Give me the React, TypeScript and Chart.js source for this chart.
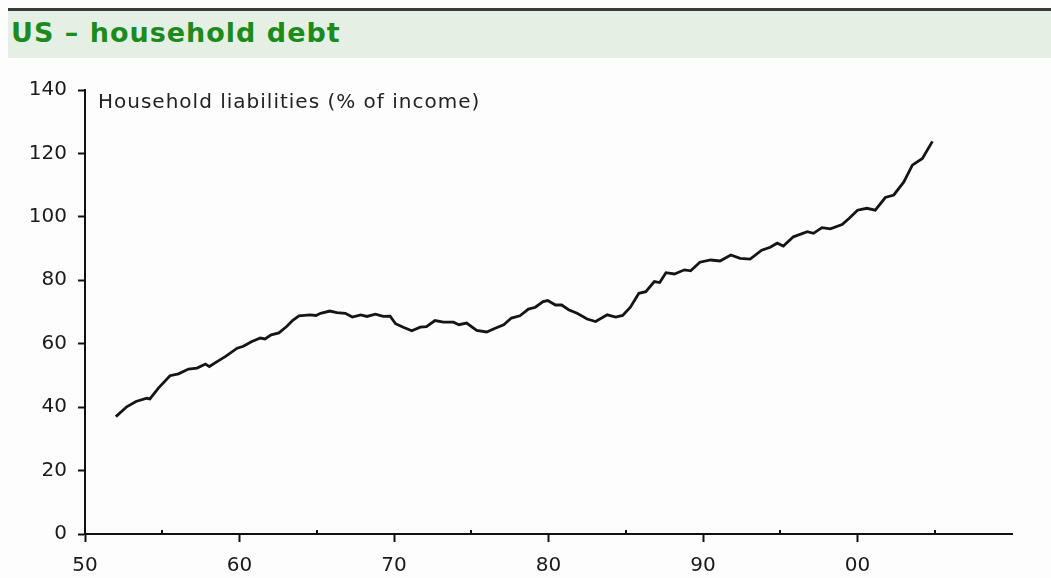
import React, { useEffect, useRef } from "react";
import { Chart, registerables } from "chart.js";

Chart.register(...registerables);

const TITLE = "US – household debt";
const SERIES_LABEL = "Household liabilities (% of income)";

const years = [
  1952.0, 1952.7, 1953.3, 1954.0, 1954.2, 1954.75, 1955.5, 1956.05, 1956.7, 1957.25,
  1957.8, 1958.05, 1958.6, 1959.1, 1959.85, 1960.25, 1960.8, 1961.35, 1961.65, 1962.05,
  1962.55, 1963.05, 1963.45, 1963.85, 1964.55, 1964.95, 1965.25, 1965.85, 1966.3, 1966.85,
  1967.3, 1967.85, 1968.25, 1968.8, 1969.3, 1969.75, 1970.1, 1970.6, 1971.15, 1971.7,
  1972.1, 1972.65, 1973.2, 1973.85, 1974.2, 1974.7, 1975.35, 1976.0, 1976.55, 1977.1,
  1977.6, 1978.15, 1978.7, 1979.15, 1979.65, 1979.95, 1980.45, 1980.85, 1981.3, 1981.85,
  1982.5, 1983.05, 1983.8, 1984.35, 1984.8, 1985.3, 1985.85, 1986.3, 1986.85, 1987.2,
  1987.6, 1988.15, 1988.8, 1989.2, 1989.8, 1990.5, 1991.1, 1991.8, 1992.4, 1993.05,
  1993.8, 1994.35, 1994.8, 1995.2, 1995.85, 1996.75, 1997.15, 1997.7, 1998.25, 1999.0,
  1999.45, 2000.0, 2000.6, 2001.15, 2001.8, 2002.35, 2003.0, 2003.55, 2004.2, 2004.85,
];

const liabilities = [
  37.0, 40.1, 41.8, 42.8, 42.6, 46.0, 49.9, 50.5, 52.0, 52.3,
  53.6, 52.8, 54.5, 56.0, 58.6, 59.2, 60.7, 61.8, 61.5, 62.8,
  63.4, 65.4, 67.4, 68.8, 69.1, 68.9, 69.6, 70.3, 69.8, 69.6,
  68.4, 69.1, 68.6, 69.3, 68.6, 68.7, 66.3, 65.2, 64.1, 65.2,
  65.4, 67.3, 66.8, 66.8, 66.0, 66.5, 64.2, 63.7, 64.9, 66.0,
  68.1, 68.8, 70.9, 71.5, 73.3, 73.6, 72.2, 72.2, 70.7, 69.6,
  67.8, 67.0, 69.1, 68.4, 68.9, 71.5, 75.9, 76.4, 79.6, 79.3,
  82.4, 82.0, 83.3, 83.0, 85.7, 86.4, 86.1, 88.0, 86.9, 86.7,
  89.5, 90.4, 91.7, 90.8, 93.7, 95.3, 94.8, 96.6, 96.2, 97.6,
  99.5, 102.1, 102.7, 102.1, 106.1, 106.9, 111.0, 116.3, 118.4, 123.8,
];

const xMajorTicks = [1950, 1960, 1970, 1980, 1990, 2000];
const xMinorTicks = [1955, 1965, 1975, 1985, 1995, 2005];
const X_MIN = 1950;
const X_MAX = 2010;
const Y_MIN = 0;
const Y_MAX = 140;
const Y_STEP = 20;

const FONT = "'DejaVu Sans', Verdana, sans-serif";

const minorTickPlugin = {
  id: "minorTicks",
  afterDraw(chart: any) {
    const { ctx, chartArea } = chart;
    const xs = chart.scales.x;
    ctx.save();
    ctx.strokeStyle = "#111";
    ctx.lineWidth = 2;
    for (const v of xMinorTicks) {
      const px = Math.round(xs.getPixelForValue(v));
      ctx.beginPath();
      ctx.moveTo(px, chartArea.bottom);
      ctx.lineTo(px, chartArea.bottom - 4);
      ctx.stroke();
    }
    // series label inside chart
    ctx.fillStyle = "#222";
    ctx.font = `20px ${FONT}`;
    try {
      (ctx as any).letterSpacing = "1px";
    } catch (e) {}
    ctx.textBaseline = "middle";
    ctx.textAlign = "left";
    ctx.fillText(SERIES_LABEL, chartArea.left + 13, chartArea.top + 13);
    ctx.restore();
  },
};

export default function App() {
  const canvasRef = useRef<HTMLCanvasElement | null>(null);

  useEffect(() => {
    document.body.style.margin = "0";
    document.body.style.background = "#fdfdfd";
    const canvas = canvasRef.current;
    if (!canvas) return;
    const chart = new Chart(canvas, {
      type: "line",
      data: {
        datasets: [
          {
            label: SERIES_LABEL,
            data: years.map((x, i) => ({ x, y: liabilities[i] })),
            borderColor: "#151515",
            borderWidth: 2.8,
            pointRadius: 0,
            tension: 0,
            fill: false,
          },
        ],
      },
      options: {
        responsive: false,
        animation: false,
        devicePixelRatio: 1,
        layout: { padding: { left: 0, right: 39, top: 90, bottom: 0 } },
        plugins: {
          legend: { display: false },
          title: { display: false },
          tooltip: { enabled: false },
        },
        scales: {
          x: {
            type: "linear",
            min: X_MIN,
            max: X_MAX,
            afterBuildTicks: (scale: any) => {
              scale.ticks = xMajorTicks.map((v) => ({ value: v }));
            },
            afterFit: (scale: any) => {
              scale.height = 44;
            },
            ticks: {
              autoSkip: false,
              maxRotation: 0,
              padding: 12,
              color: "#1a1a1a",
              font: { family: FONT, size: 20 },
              callback: (v: any) => String(Number(v) % 100).padStart(2, "0"),
            },
            grid: {
              display: true,
              drawOnChartArea: false,
              drawTicks: true,
              tickLength: 8,
              tickWidth: 2,
              tickColor: "#111",
            },
            border: { display: true, color: "#111", width: 2 },
          },
          y: {
            type: "linear",
            min: Y_MIN,
            max: Y_MAX,
            afterFit: (scale: any) => {
              scale.width = 85;
            },
            ticks: {
              stepSize: Y_STEP,
              padding: 11,
              color: "#1a1a1a",
              font: { family: FONT, size: 20 },
            },
            grid: {
              display: true,
              drawOnChartArea: false,
              drawTicks: true,
              tickLength: 7,
              tickWidth: 2,
              tickColor: "#111",
            },
            border: { display: true, color: "#111", width: 2 },
          },
        },
      },
      plugins: [minorTickPlugin],
    });
    return () => chart.destroy();
  }, []);

  return (
    <div style={{ position: "fixed", left: 0, top: 0, width: 1051, height: 578, background: "#fdfdfd" }}>
      <div
        style={{
          position: "absolute",
          left: 8,
          right: 0,
          top: 8,
          height: 47,
          borderTop: "3px solid #3a3a3a",
          background: "#e4f0e3",
        }}
      >
        <div
          style={{
            position: "absolute",
            left: 3,
            top: 6,
            fontFamily: FONT,
            fontWeight: "bold",
            fontSize: 27,
            letterSpacing: "1px",
            color: "#1d8a1d",
            lineHeight: "32px",
            whiteSpace: "nowrap",
          }}
        >
          {TITLE}
        </div>
      </div>
      <canvas
        ref={canvasRef}
        width={1051}
        height={578}
        style={{ position: "absolute", left: 0, top: 0 }}
      />
    </div>
  );
}
